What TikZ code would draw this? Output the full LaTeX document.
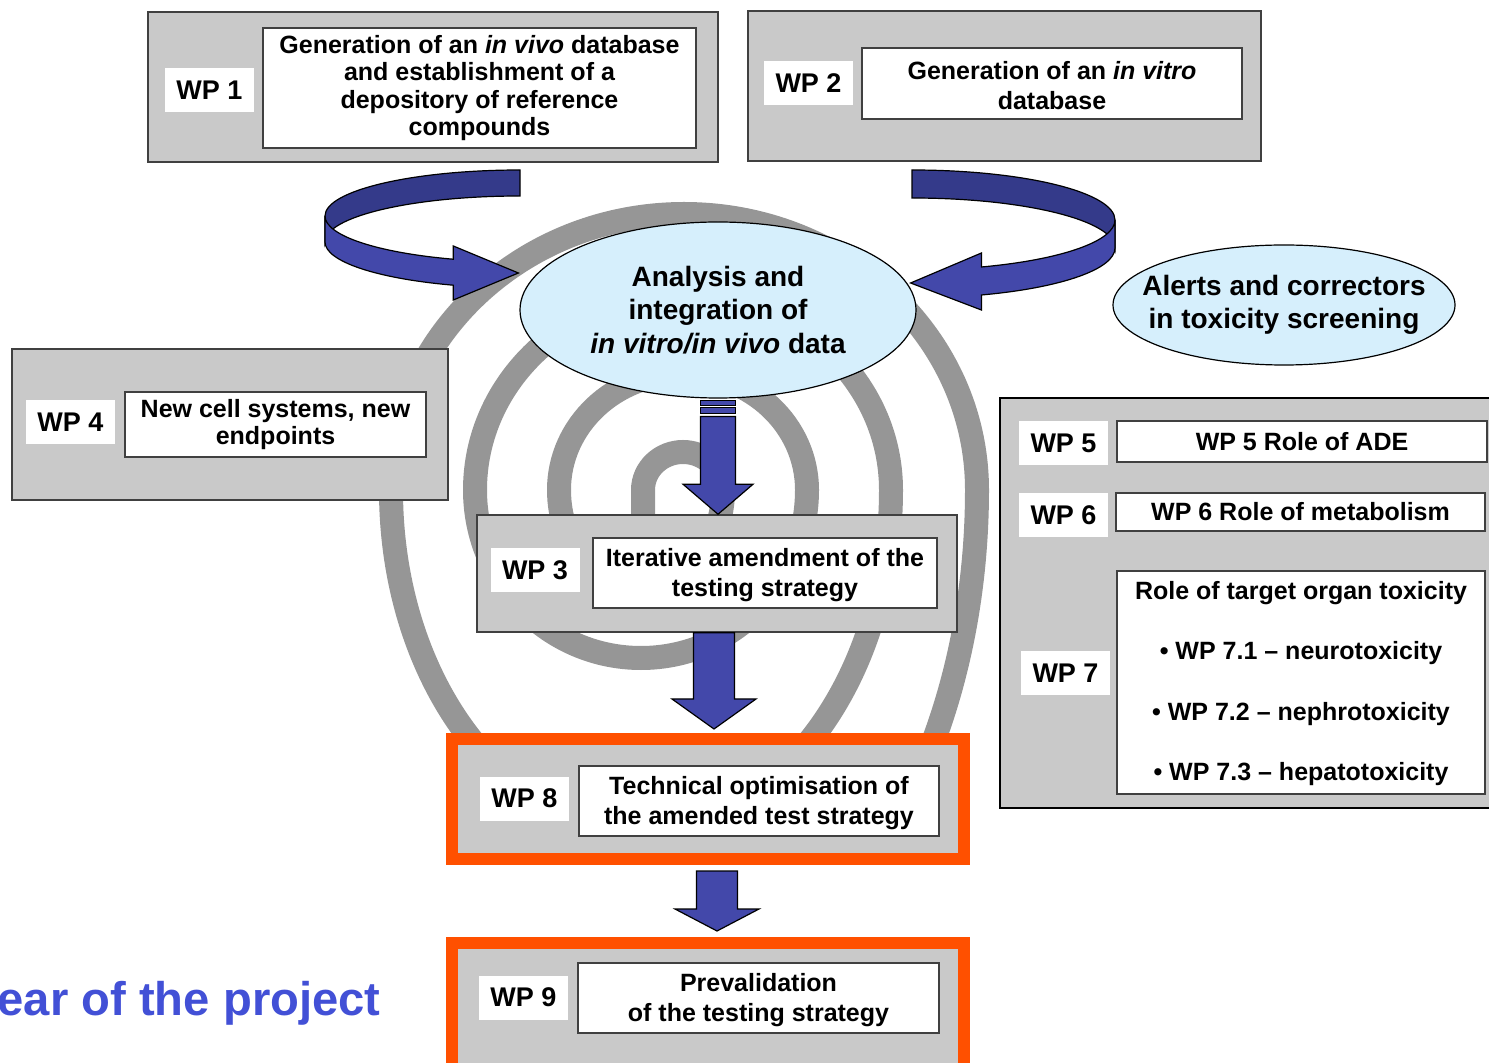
\documentclass[tikz,border=0pt]{standalone}
\usepackage{fontspec}
\setmainfont{Liberation Sans}
\usetikzlibrary{shapes.geometric,fit,calc}
\definecolor{boxgray}{RGB}{201,201,201}
\definecolor{spiralgray}{RGB}{150,150,150}
\definecolor{skyblue}{RGB}{214,239,252}
\definecolor{arrowblue}{RGB}{67,72,170}
\definecolor{ribbondark}{RGB}{52,58,138}
\definecolor{frameorange}{RGB}{255,80,0}
\definecolor{titleblue}{RGB}{66,80,214}
\def\wpfont{\bfseries\fontsize{12.5}{13.6}\selectfont}
\newcommand\dnarrow[5]{\draw[blockarrow] ($(#1)+(-#3,0)$) -- ($(#2)+(-#3,-#5)$) -- ($(#2)+(-#4,-#5)$) -- (#2) -- ($(#2)+(#4,-#5)$) -- ($(#2)+(#3,-#5)$) -- ($(#1)+(#3,0)$) -- cycle;}

\begin{document}
\begin{tikzpicture}[x=0.5pt,y=-0.5pt,
  graybox/.style={draw=black!75,fill=boxgray,line width=0.75pt,inner sep=0pt},
  whitebox/.style={draw=black!75,fill=white,line width=0.6pt,inner sep=0pt},
  boxtext/.style={align=center,inner sep=0pt,font=\wpfont},
  wplabel/.style={fill=white,inner sep=0pt,minimum width=44.5pt,minimum height=22pt,font=\bfseries\fontsize{13.5}{14}\selectfont},
  bubble/.style={ellipse,draw=black,fill=skyblue,line width=0.6pt,inner sep=0pt},
  bubbletext/.style={align=center,inner sep=0pt,font=\bfseries\fontsize{14}{16.6}\selectfont},
  spiralband/.style={draw=spiralgray,line width=12pt},
  blockarrow/.style={fill=arrowblue,draw=black,line width=0.6pt},
  ribbonback/.style={fill=ribbondark,draw=black,line width=0.6pt},
  orangeframe/.style={draw=frameorange,fill=boxgray,line width=6pt,inner sep=0pt}]
\useasboundingbox (0,0) rectangle (1489,1063);

%\draw[help lines,step=100] (0,0) grid (1489,1063);

% spiral in the background
\draw[spiralband] (643,530) -- (643,490)
  arc[start angle=180,end angle=360,x radius=40,y radius=38]
  arc[start angle=0,end angle=180,x radius=82,y radius=100]
  arc[start angle=180,end angle=360,x radius=124,y radius=117]
  arc[start angle=0,end angle=180,x radius=166,y radius=168]
  arc[start angle=180,end angle=360,x radius=208,y radius=196]
  arc[start angle=0,end angle=180,x radius=250,y radius=340]
  arc[start angle=180,end angle=360,x radius=293,y radius=276]
  arc[start angle=0,end angle=40,x radius=336,y radius=510];

% WP 1
\node[graybox,fit={(148,12) (718,162)}] (wp1) {};
\node[wplabel] (wp1lab) at (209.5,90) {WP 1};
\node[whitebox,fit={(263,28) (696,148)}] (wp1box) {};
\node[boxtext,font=\bfseries\fontsize{12.5}{13.65}\selectfont] (wp1txt) at (wp1box)
  {Generation of an \textit{in vivo} database\\ and establishment of a\\ depository of reference\\ compounds};

% WP 2
\node[graybox,fit={(748,11) (1261,161)}] (wp2) {};
\node[wplabel] (wp2lab) at (808.5,83) {WP 2};
\node[whitebox,fit={(862,48) (1242,119)}] (wp2box) {};
\node[boxtext,font=\bfseries\fontsize{12.5}{15}\selectfont] (wp2txt) at ($(wp2box)+(0,2)$)
  {Generation of an \textit{in vitro}\\ database};

% WP 4
\node[graybox,fit={(12,349) (448,500)}] (wp4) {};
\node[wplabel] (wp4lab) at (70.5,422) {WP 4};
\node[whitebox,fit={(125,392) (426,457)}] (wp4box) {};
\node[boxtext] (wp4txt) at (wp4box) {New cell systems, new\\ endpoints};

% WP 3
\node[graybox,fit={(477,515) (957,632)}] (wp3) {};
\node[wplabel] (wp3lab) at (535,570.5) {WP 3};
\node[whitebox,fit={(593,538) (937,608)}] (wp3box) {};
\node[boxtext,font=\bfseries\fontsize{12.5}{15}\selectfont] (wp3txt) at ($(wp3box)+(0,2)$)
  {Iterative amendment of the\\ testing strategy};

% WP 5 - 7
\node[graybox,draw=black,line width=1pt,fit={(1000,398) (1500,808)}] (wp57) {};
\node[wplabel] (wp5lab) at (1063.5,443) {WP 5};
\node[whitebox,fit={(1117,421) (1487,462)}] (wp5box) {};
\node[boxtext] (wp5txt) at (wp5box) {WP 5 Role of ADE};
\node[wplabel] (wp6lab) at (1063.5,515) {WP 6};
\node[whitebox,fit={(1116,493) (1485,531)}] (wp6box) {};
\node[boxtext] (wp6txt) at (wp6box) {WP 6 Role of metabolism};
\node[wplabel] (wp7lab) at (1065.5,673) {WP 7};
\node[whitebox,fit={(1117,571) (1485,794)}] (wp7box) {};
\node[boxtext,font=\bfseries\fontsize{12.5}{30.25}\selectfont] (wp7txt) at ($(wp7box)+(0,1)$)
  {Role of target organ toxicity\\ • WP 7.1 – neurotoxicity\\ • WP 7.2 – nephrotoxicity\\ • WP 7.3 – hepatotoxicity};

% WP 8 and WP 9
\node[orangeframe,fit={(452,739) (964,859)}] (wp8) {};
\node[wplabel] (wp8lab) at (524.5,798.5) {WP 8};
\node[whitebox,fit={(579,766) (939,836)}] (wp8box) {};
\node[boxtext,font=\bfseries\fontsize{12.5}{15}\selectfont] (wp8txt) at ($(wp8box)+(0,2)$)
  {Technical optimisation of\\ the amended test strategy};
\node[orangeframe,fit={(452,943) (964,1080)}] (wp9) {};
\node[wplabel] (wp9lab) at (523.5,997.5) {WP 9};
\node[whitebox,fit={(578,963) (939,1033)}] (wp9box) {};
\node[boxtext,font=\bfseries\fontsize{12.5}{15}\selectfont] (wp9txt) at ($(wp9box)+(0,2)$)
  {Prevalidation\\ of the testing strategy};

% bubbles
\node[bubble,minimum width=198pt,minimum height=88pt] (ana) at (718,310) {};
\node[bubbletext] (anatxt) at (ana) {Analysis and\\ integration of\\ \textit{in vitro/in vivo} data};
\node[bubble,minimum width=171pt,minimum height=60pt] (alerts) at (1284,305) {};
\node[bubbletext] (alertstxt) at (alerts) {Alerts and correctors\\ in toxicity screening};

% ribbon arrows into the analysis bubble
\coordinate (ltip) at ($(ana.west)+(-1,-37)$);
\coordinate (rtip) at ($(ana.east)+(-6,-27)$);
\draw[ribbonback] (520,170) arc[start angle=270,end angle=180,x radius=195,y radius=46]
  -- (325,242) arc[start angle=180,end angle=270,x radius=195,y radius=46] -- cycle;
\draw[blockarrow] (325,216) arc[start angle=180,end angle=110,x radius=195,y radius=46]
  -- (453.3,246) -- (ltip) -- (453.3,300) -- (453.3,285.2)
  arc[start angle=110,end angle=180,x radius=195,y radius=46] -- cycle;
\draw[ribbonback] (912,170) arc[start angle=270,end angle=360,x radius=203,y radius=50]
  -- (1115,248) arc[start angle=360,end angle=270,x radius=203,y radius=50] -- cycle;
\draw[blockarrow] (1115,220) arc[start angle=0,end angle=70,x radius=203,y radius=50]
  -- (981.4,253) -- (rtip) -- (981.4,310) -- (981.4,295)
  arc[start angle=70,end angle=0,x radius=203,y radius=50] -- cycle;

% straight arrows down the middle
\coordinate (a1s) at ($(ana.south)+(0,18)$);
\coordinate (a1e) at (ana.south |- wp3.north);
\draw[blockarrow] ($(ana.south)+(-17.5,2)$) rectangle ($(ana.south)+(17.5,7)$);
\draw[blockarrow] ($(ana.south)+(-17.5,9)$) rectangle ($(ana.south)+(17.5,15)$);
\dnarrow{a1s}{a1e}{17.5}{35}{30}
\coordinate (a2s) at ($(wp3.south)+(-3,0)$);
\coordinate (a2e) at ($(a2s |- wp8.north)+(0,-4)$);
\dnarrow{a2s}{a2e}{20.5}{42}{30}
\coordinate (a3s) at ($(wp3.south |- wp8.south)+(0,6)$);
\coordinate (a3e) at ($(wp3.south |- wp9.north)+(0,-6)$);
\dnarrow{a3s}{a3e}{20.5}{42}{22}

\node[anchor=east,inner sep=0pt,text=titleblue,font=\bfseries\fontsize{23.6}{28}\selectfont] (year) at (381,1003) {ear of the project};
\end{tikzpicture}
\end{document}
